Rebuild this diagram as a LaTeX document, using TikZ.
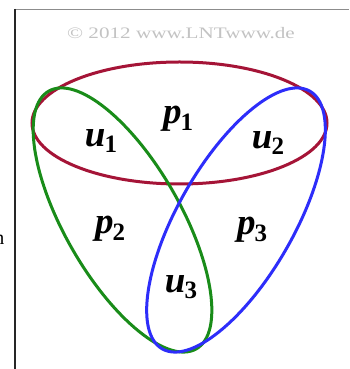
\documentclass[tikz,border=0pt]{standalone}
\usepackage{fontspec}
\setmainfont{Liberation Serif}
\usetikzlibrary{shapes.geometric}
\definecolor{cred}{RGB}{165,20,55}
\definecolor{cgreen}{RGB}{25,140,25}
\definecolor{cblue}{RGB}{45,45,250}
\definecolor{cgray}{RGB}{195,195,195}
\newcommand{\lbl}[2]{\fontsize{37}{37}\selectfont\textbf{\textit{#1}}\kern-1pt\raisebox{-0.18em}{\fontsize{25}{25}\selectfont\textbf{#2}}}
\tikzset{
  setell/.style={ellipse, draw, line width=3pt, inner sep=0pt, fill=none},
  setlbl/.style={inner sep=0pt, anchor=center},
}
\begin{document}
\begin{tikzpicture}[x=1pt,y=1pt]
\useasboundingbox (0,0) rectangle (349,369);
\fill[white] (0,0) rectangle (349,369);
% frame
\coordinate (tl) at (15,360);
\coordinate (bl) at (15,0);
\coordinate (tr) at (349,360);
\draw[line width=0.8pt, black!45] (tl) -- (tr);
\draw[line width=1.8pt, black!85] (tl) -- (bl);
% clipped stray letter
\begin{scope}
\clip (0,100) rectangle (5,160);
\node[inner sep=0pt, anchor=east, font=\fontsize{20}{20}\selectfont] (n) at (4.5,129) {n};
\end{scope}
% copyright
\node[text=cgray, font=\fontsize{16}{16}\selectfont, inner sep=0pt, xscale=1.32] (copy) at (181,336) {© 2012 www.LNTwww.de};
% sets
\node[setell, draw=cred, minimum width=295pt, minimum height=122pt] (red) at (179.5,246) {};
\node[setell, draw=cgreen, minimum width=297pt, minimum height=116pt, rotate=-60.2] (green) at (122.5,149) {};
\node[setell, draw=cblue, minimum width=297pt, minimum height=116pt, rotate=60.2] (blue) at (236,149) {};
% labels
\node[setlbl] (p1) at (178,250) {\lbl{p}{1}};
\node[setlbl] (u1) at (101,228) {\lbl{u}{1}};
\node[setlbl] (u2) at (268,226) {\lbl{u}{2}};
\node[setlbl] (p2) at (110,140) {\lbl{p}{2}};
\node[setlbl] (p3) at (252,139) {\lbl{p}{3}};
\node[setlbl] (u3) at (181,82) {\lbl{u}{3}};
\end{tikzpicture}
\end{document}
